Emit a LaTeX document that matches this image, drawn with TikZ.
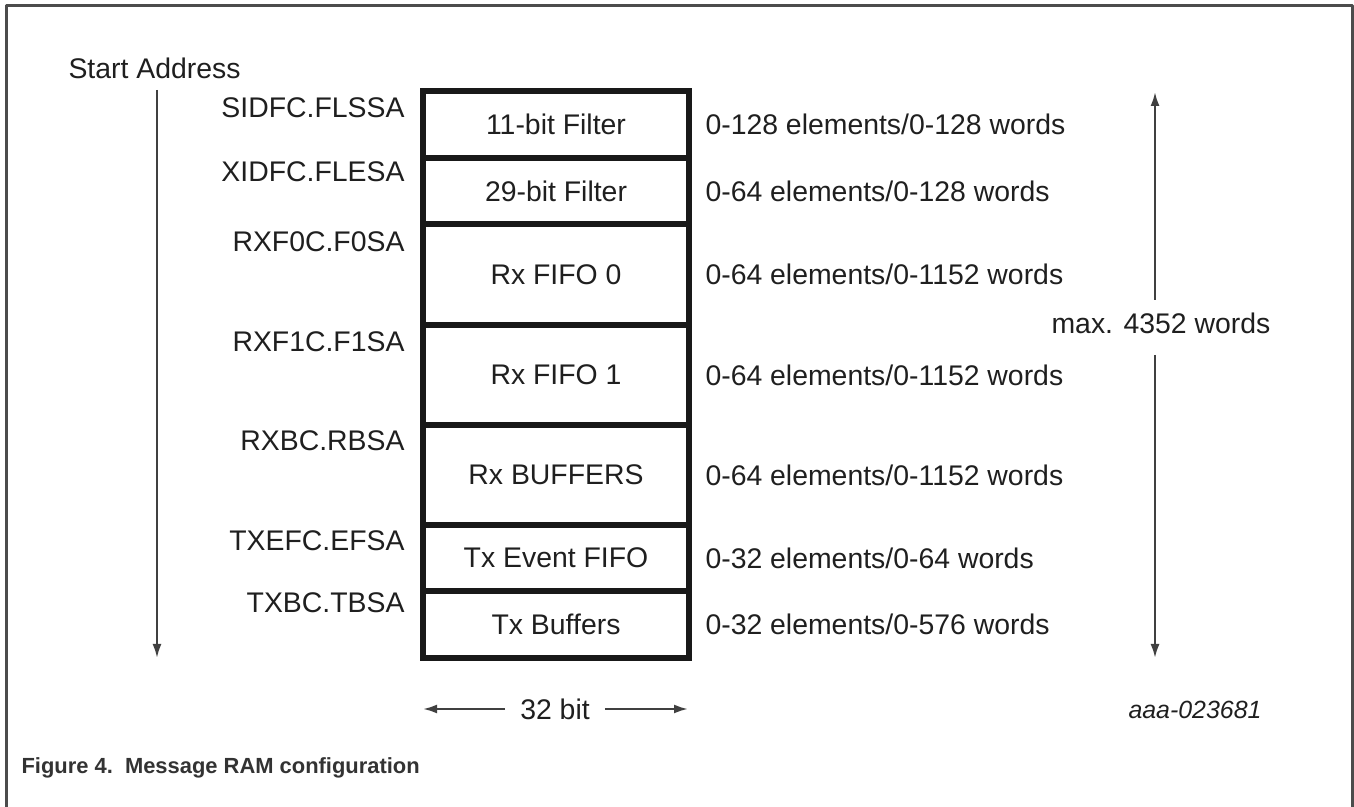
\documentclass[tikz,border=0pt]{standalone}
\usepackage{fontspec}
\setmainfont{Liberation Sans}
\usetikzlibrary{arrows.meta}
\begin{document}
\begin{tikzpicture}[>={Latex[length=14bp,width=9bp]},line join=bevel,
  every node/.style={font=\fontsize{28.5}{34}\selectfont,text=black!88},
  ramrow/.style={draw=black!90,line width=6bp,line join=miter,minimum width=266bp,inner sep=0pt},
  conn/.style={draw=black!75,line width=2.2bp},
  ]
\useasboundingbox (0,0) rectangle (1354bp,807bp);
%%
\draw [black!70,line width=2.6bp] (6.5bp,0bp) -- (6.5bp,801.5bp) -- (1352.5bp,801.5bp) -- (1352.5bp,0bp);
%
\node (node_start) at (65bp,739bp) [anchor=west] {Start Address};
  \coordinate (addr_top) at (157bp,717bp);
  \coordinate (addr_end) at (157bp,149bp);
  \draw [conn,->] (addr_top) -- (addr_end);
%
  \node (row_0) at (556bp,682.25bp) [ramrow,minimum height=67.5bp] {11-bit Filter};
  \node (row_1) at (556bp,615.5bp) [ramrow,minimum height=66bp] {29-bit Filter};
  \node (row_2) at (556bp,532.25bp) [ramrow,minimum height=100.5bp] {Rx FIFO 0};
  \node (row_3) at (556bp,432bp) [ramrow,minimum height=100bp] {Rx FIFO 1};
  \node (row_4) at (556bp,332bp) [ramrow,minimum height=100bp] {Rx BUFFERS};
  \node (row_5) at (556bp,249bp) [ramrow,minimum height=66bp] {Tx Event FIFO};
  \node (row_6) at (556bp,182.5bp) [ramrow,minimum height=67bp] {Tx Buffers};
%
  \node (addr_0) at (408bp,699bp) [anchor=east] {SIDFC.FLSSA};
  \node (addr_1) at (408bp,635bp) [anchor=east] {XIDFC.FLESA};
  \node (addr_2) at (408bp,565bp) [anchor=east] {RXF0C.F0SA};
  \node (addr_3) at (408bp,465bp) [anchor=east] {RXF1C.F1SA};
  \node (addr_4) at (408bp,366bp) [anchor=east] {RXBC.RBSA};
  \node (addr_5) at (408bp,266bp) [anchor=east] {TXEFC.EFSA};
  \node (addr_6) at (408bp,204bp) [anchor=east] {TXBC.TBSA};
%
  \node (size_0) at (702bp,682.25bp) [anchor=west] {0-128 elements/0-128 words};
  \node (size_1) at (702bp,615.5bp) [anchor=west] {0-64 elements/0-128 words};
  \node (size_2) at (702bp,532.25bp) [anchor=west] {0-64 elements/0-1152 words};
  \node (size_3) at (702bp,432bp) [anchor=west] {0-64 elements/0-1152 words};
  \node (size_4) at (702bp,332bp) [anchor=west] {0-64 elements/0-1152 words};
  \node (size_5) at (702bp,249bp) [anchor=west] {0-32 elements/0-64 words};
  \node (size_6) at (702bp,182.5bp) [anchor=west] {0-32 elements/0-576 words};
%
\node (node_max) at (1161bp,484bp) {max. 4352 words};
  \coordinate (span_top) at (1155bp,715bp);
  \coordinate (span_a) at (1155bp,507bp);
  \coordinate (span_b) at (1155bp,452bp);
  \coordinate (span_end) at (1155bp,149bp);
  \draw [conn,->] (span_a) -- (span_top);
  \draw [conn,->] (span_b) -- (span_end);
%
\node (node_bits) at (555bp,98bp) [inner xsep=15bp] {32 bit};
  \coordinate (bits_l) at (423bp,98bp);
  \coordinate (bits_r) at (688bp,98bp);
  \draw [conn,->] (node_bits.west) -- (bits_l);
  \draw [conn,->] (node_bits.east) -- (bits_r);
%
\node (node_ref) at (1195bp,97bp) [font=\itshape\fontsize{25}{30}\selectfont] {aaa-023681};
\node (node_caption) at (18bp,39bp) [anchor=west,font=\bfseries\fontsize{22}{26}\selectfont,text=black!80] {Figure 4.\ \ Message RAM configuration};
%
\end{tikzpicture}
\end{document}
